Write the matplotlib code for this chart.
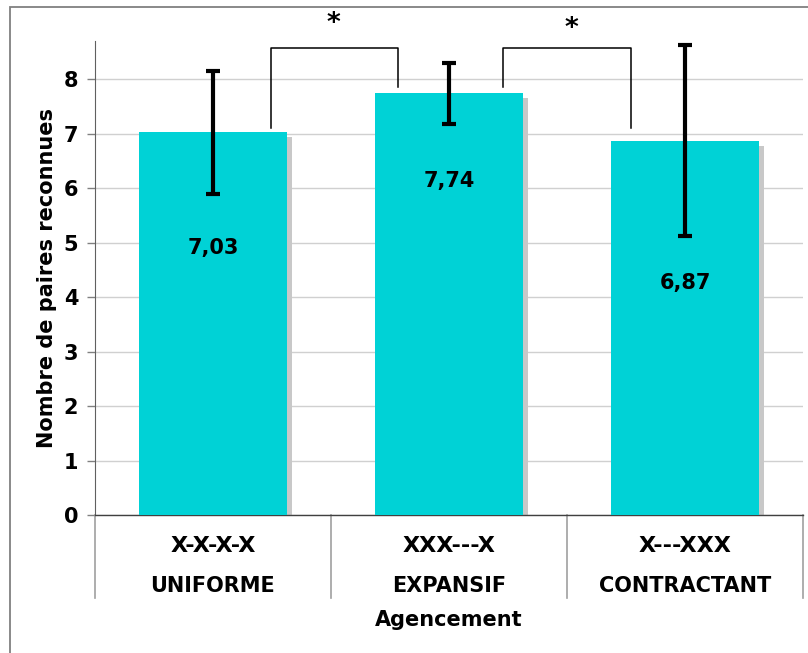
import numpy as np
import matplotlib.pyplot as plt
from matplotlib.patches import Rectangle
import matplotlib.transforms as mtransforms

# data
codes = ['X-X-X-X', 'XXX---X', 'X---XXX']
names = ['UNIFORME', 'EXPANSIF', 'CONTRACTANT']
means = [7.03, 7.74, 6.87]
err_lo = [1.13, 0.56, 1.74]
err_hi = [1.12, 0.56, 1.75]
label_y = [4.9, 6.13, 4.26]
mean_text = ['7,03', '7,74', '6,87']

# significance brackets: (left x, left foot, right x, right foot, top)
brackets = [(0.246, 7.10, 0.784, 7.85, 8.57),
            (1.229, 7.85, 1.771, 7.10, 8.57)]
stars = [(0.51, 9.02), (1.52, 8.92)]

bar_color = '#00D2D6'
shadow_color = '#C8C8C8'

plt.rcParams['font.family'] = 'DejaVu Sans'
plt.rcParams['font.weight'] = 'bold'

fig = plt.figure(figsize=(8.08, 6.53), dpi=100)
ax = fig.add_axes([95/808, 1 - 515/653, (803-95)/808, (515-41)/653])

x = np.arange(len(means))
w = 0.627

# shadow then bars
ax.bar(x + 0.021, np.array(means) - 0.09, width=w, color=shadow_color, zorder=2)
ax.bar(x, means, width=w, color=bar_color, zorder=3)

ax.errorbar(x, means, yerr=[err_lo, err_hi], fmt='none', ecolor='black',
            elinewidth=3, capsize=5, capthick=3, zorder=5, clip_on=False)

for xi, yi, t in zip(x, label_y, mean_text):
    ax.text(xi, yi, t, ha='center', va='center', fontsize=15,
            fontweight='bold', zorder=6)

for lx, ly, rx, ry, top in brackets:
    ax.plot([lx, lx, rx, rx], [ly, top, top, ry], color='black', lw=1.1,
            zorder=6, clip_on=False)
for sx, sy in stars:
    ax.text(sx, sy, '*', ha='center', va='center', fontsize=19,
            fontweight='bold', clip_on=False)

ax.set_xlim(-0.5, 2.5)
ax.set_ylim(0, 8.7)
ax.set_yticks(range(0, 9))
ax.yaxis.grid(True, color='#D0D0D0', lw=1)
ax.set_axisbelow(True)
ax.tick_params(axis='y', labelsize=15, length=6, width=1, color='#808080',
               pad=6)
for lab in ax.get_yticklabels():
    lab.set_fontweight('bold')
ax.set_xticks([])
for s in ['top', 'right']:
    ax.spines[s].set_visible(False)
ax.spines['left'].set_color('#606060')
ax.spines['bottom'].set_color('#404040')
ax.spines['bottom'].set_linewidth(1)

ax.set_ylabel('Nombre de paires reconnues', fontsize=15, fontweight='bold',
              labelpad=5)

# two-level category axis
trans = mtransforms.blended_transform_factory(ax.transData, ax.transAxes)
sep_bottom = -(598 - 515) / (515 - 41)
for sx in [-0.5, 0.5, 1.5, 2.5]:
    ax.plot([sx, sx], [0, sep_bottom], color='#A0A0A0', lw=1.2,
            transform=trans, clip_on=False)
for xi, c, n in zip(x, codes, names):
    ax.text(xi, -(546 - 515) / 474, c, transform=trans, ha='center',
            va='center', fontsize=16, fontweight='bold')
    ax.text(xi, -(586 - 515) / 474, n, transform=trans, ha='center',
            va='center', fontsize=15, fontweight='bold')
ax.text(1, -(620 - 515) / 474, 'Agencement', transform=trans, ha='center',
        va='center', fontsize=15, fontweight='bold')

# outer frame (partly cut off in the reference)
fig.patches.append(Rectangle((10/808, -0.01), 1.0, 1 - 7/653 + 0.01,
                             transform=fig.transFigure, fill=False,
                             edgecolor='#808080', lw=1.3))

fig.savefig('out.png', dpi=100)
